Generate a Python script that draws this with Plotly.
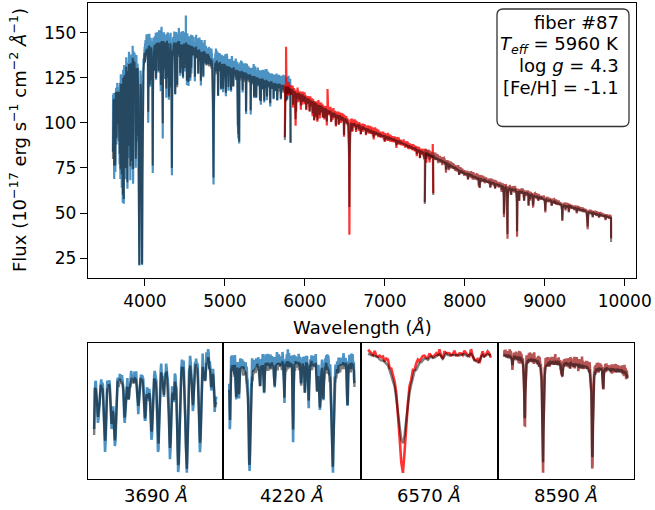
import numpy as np
import plotly.graph_objects as go

W, H = 655, 510
FONT = "DejaVu Sans"

# ---- spectrograph arms (observed frame, Å) ----
ARM_START = [3600.0, 5750.0, 7500.0]
ARM_END = [5822.0, 7606.0, 9830.0]
ARM_STEP = 0.8
ARM_COLOR = ["rgba(31,119,180,0.8)", "rgba(255,0,0,0.8)", "rgba(165,42,42,0.8)"]
MODEL_COLOR = "rgba(0,0,0,0.5)"
OBS_SCALE = [1.022, 1.004, 1.006]
NOISE_AMP = [0.035, 0.022, 0.026]
# first / last pixel of each arm (flux, 1e-17 erg/s/cm2/Å)
EDGE_OBS = [(84.0, 89.0), (92.0, 61.0), (56.0, 36.0)]
EDGE_MODEL = [(80.0, 89.0), (90.5, 60.0), (55.0, 34.0)]

# ---- model pseudo-continuum ----
CONT_WAVE = [3600, 3620, 3650, 3700, 3750, 3780, 3800, 3850, 3900, 3950, 4000,
             4050, 4100, 4200, 4300, 4400, 4500, 4600, 4700, 4800, 4900, 5000,
             5200, 5400, 5600, 5800, 6000, 6200, 6400, 6600, 6800, 7000, 7200,
             7440, 7600, 7800, 8000, 8250, 8530, 8750, 9000, 9250, 9530, 9830]
CONT_FLUX = [117, 119, 122, 126.5, 133, 138, 140, 141, 141, 143, 146,
             148, 149, 149.5, 149.5, 149, 148.5, 146.5, 144, 141, 138, 135.5,
             131.5, 128, 125, 122, 116.5, 111, 106, 101.5, 97.5, 94, 90.5,
             85.5, 82.5, 78, 73, 69, 65, 62, 58.5, 55, 51.5, 48]

# depth of the unresolved weak-line forest
FOREST_WAVE = [3600, 3950, 4050, 4600, 5200, 5800, 6500, 7600, 8500, 9830]
FOREST_DEPTH = [0.16, 0.15, 0.14, 0.14, 0.12, 0.10, 0.06, 0.045, 0.045, 0.04]
FOREST_A = [0.1, 0.6, 0.2, 0.0, 0.9, 0.3, 0.1, 0.5, 0.0, 0.2, 1.0, 0.4, 0.1, 0.0, 0.7, 0.2,
            0.3, 0.0, 0.8, 0.1, 0.4, 0.0, 0.6, 0.2, 0.0, 0.9, 0.3, 0.1, 0.5, 0.0, 0.2]
FOREST_B = [0.3, 0.0, 0.8, 0.1, 0.5, 0.0, 0.2, 0.9, 0.1, 0.0, 0.6, 0.3, 0.0, 0.7, 0.2, 0.4,
            0.0, 1.0, 0.1]
# pixel-to-pixel residual pattern of the observed spectrum
TEX_A = [0.3, -0.8, 0.5, 1.0, -0.2, -0.6, 0.9, 0.1, -1.0, 0.4, 0.7, -0.3, -0.9, 0.6, 0.2,
         -0.5, 0.8, -0.1, -0.7, 1.0, 0.0, -0.4, 0.5, -0.9, 0.3, 0.9, -0.6, 0.1, -0.2]
TEX_B = [-0.5, 0.9, -0.1, 0.4, -1.0, 0.6, 0.2, -0.7, 1.0, -0.3, 0.0, 0.7, -0.8, 0.3, -0.4,
         0.8, -0.6, 0.5, -0.2, 0.9, -0.9, 0.1, 0.6]

# ---- absorption lines: (centre, model depth, observed depth, model width, observed width, profile)
LINES_BLUE = [
    (3606.0, 0.17, 0.22, 1.5, 1.4, "G"),
    (3616.0, 0.33, 0.40, 1.6, 1.4, "G"), (3625.7, 0.22, 0.28, 1.5, 1.4, "G"),
    (3630.6, 0.34, 0.40, 1.6, 1.4, "G"), (3645.0, 0.19, 0.24, 1.5, 1.4, "G"),
    (3650.5, 0.10, 0.12, 1.4, 1.3, "G"), (3664.8, 0.16, 0.20, 1.5, 1.4, "G"),
    (3674.6, 0.22, 0.27, 1.6, 1.4, "G"), (3679.5, 0.12, 0.14, 1.4, 1.3, "G"),
    (3684.4, 0.32, 0.38, 1.6, 1.4, "G"), (3694.0, 0.38, 0.44, 1.7, 1.5, "G"),
    (3702.0, 0.10, 0.12, 1.4, 1.3, "G"), (3711.3, 0.41, 0.48, 1.7, 1.5, "G"),
    (3716.5, 0.15, 0.18, 1.4, 1.3, "G"), (3723.5, 0.52, 0.57, 1.8, 1.6, "G"),
    (3735.7, 0.54, 0.58, 1.8, 1.6, "G"), (3745.0, 0.20, 0.24, 1.5, 1.4, "G"),
    (3755.3, 0.42, 0.48, 1.7, 1.5, "G"), (3762.0, 0.10, 0.12, 1.4, 1.3, "G"),
    (3772.0, 0.15, 0.18, 1.4, 1.3, "G"), (3777.0, 0.22, 0.26, 1.5, 1.4, "G"),
    (3782.0, 0.48, 0.52, 2.0, 1.8, "G"), (3794.0, 0.33, 0.40, 2.5, 2.2, "G"),
    (3808.0, 0.20, 0.24, 1.6, 1.5, "G"), (3818.0, 0.42, 0.48, 1.8, 1.6, "G"),
    (3830.0, 0.38, 0.44, 2.0, 1.8, "G"), (3835.5, 0.40, 0.45, 2.5, 2.2, "G"),
    (3853.0, 0.45, 0.52, 2.0, 1.8, "G"), (3875.0, 0.20, 0.24, 1.6, 1.5, "G"),
    (3886.0, 0.40, 0.46, 2.5, 2.2, "G"), (3899.0, 0.22, 0.26, 1.6, 1.5, "G"),
    (3903.0, 0.28, 0.32, 1.6, 1.5, "G"), (3918.0, 0.20, 0.24, 1.6, 1.5, "G"),
    (3930.0, 0.84, 0.85, 5.0, 4.5, "L"), (3940.0, 0.30, 0.32, 1.6, 1.5, "G"),
    (3958.0, 0.30, 0.32, 1.6, 1.5, "G"), (3965.0, 0.84, 0.85, 5.0, 4.5, "L"),
    (4042.0, 0.24, 0.29, 1.5, 1.3, "G"), (4059.8, 0.15, 0.18, 1.5, 1.3, "G"),
    (4068.0, 0.13, 0.16, 1.5, 1.3, "G"), (4098.0, 0.47, 0.52, 3.2, 2.6, "L"),
    (4128.0, 0.08, 0.10, 1.4, 1.3, "G"), (4140.0, 0.12, 0.14, 1.4, 1.3, "G"),
    (4170.0, 0.10, 0.12, 1.4, 1.3, "G"), (4198.0, 0.13, 0.15, 1.4, 1.3, "G"),
    (4223.0, 0.30, 0.38, 1.4, 1.2, "G"), (4246.0, 0.10, 0.12, 1.4, 1.3, "G"),
    (4257.0, 0.13, 0.15, 1.4, 1.3, "G"), (4268.0, 0.17, 0.20, 1.4, 1.3, "G"),
    (4292.0, 0.12, 0.14, 1.5, 1.4, "G"), (4300.0, 0.20, 0.23, 2.5, 2.2, "G"),
    (4310.0, 0.15, 0.17, 1.5, 1.4, "G"), (4337.0, 0.48, 0.53, 3.2, 2.6, "L"),
    (4379.0, 0.20, 0.23, 1.4, 1.3, "G"), (4400.0, 0.12, 0.14, 1.4, 1.3, "G"),
    (4404.0, 0.15, 0.17, 1.4, 1.3, "G"), (4442.0, 0.10, 0.12, 1.4, 1.3, "G"),
    (4467.0, 0.10, 0.12, 1.4, 1.3, "G"), (4477.0, 0.10, 0.12, 1.4, 1.3, "G"),
    (4497.0, 0.08, 0.10, 1.4, 1.3, "G"), (4525.0, 0.10, 0.12, 1.4, 1.3, "G"),
    (4545.0, 0.13, 0.17, 1.4, 1.3, "G"), (4568.0, 0.10, 0.12, 1.4, 1.3, "G"),
    (4580.0, 0.08, 0.10, 1.4, 1.3, "G"), (4625.0, 0.08, 0.10, 1.4, 1.3, "G"),
    (4667.0, 0.08, 0.10, 1.4, 1.3, "G"), (4700.0, 0.08, 0.10, 1.4, 1.3, "G"),
    (4730.0, 0.06, 0.08, 1.4, 1.3, "G"), (4858.0, 0.48, 0.53, 3.8, 3.0, "L"),
    (4915.0, 0.12, 0.15, 1.4, 1.3, "G"), (4952.0, 0.09, 0.11, 1.4, 1.3, "G"),
    (4978.0, 0.08, 0.10, 1.4, 1.3, "G"), (5013.0, 0.11, 0.13, 1.4, 1.3, "G"),
    (5045.0, 0.07, 0.09, 1.4, 1.3, "G"), (5078.0, 0.08, 0.10, 1.4, 1.3, "G"),
    (5105.0, 0.07, 0.09, 1.4, 1.3, "G"), (5163.0, 0.22, 0.25, 1.4, 1.3, "G"),
    (5168.0, 0.26, 0.30, 1.4, 1.3, "G"), (5179.0, 0.29, 0.33, 1.4, 1.3, "G"),
    (5222.0, 0.07, 0.09, 1.4, 1.3, "G"), (5265.0, 0.14, 0.17, 1.4, 1.3, "G"),
    (5323.0, 0.13, 0.16, 1.4, 1.3, "G"), (5366.0, 0.08, 0.10, 1.4, 1.3, "G"),
    (5392.0, 0.07, 0.09, 1.4, 1.3, "G"), (5440.0, 0.09, 0.11, 1.4, 1.3, "G"),
    (5450.0, 0.08, 0.10, 1.4, 1.3, "G"), (5492.0, 0.07, 0.09, 1.4, 1.3, "G"),
    (5527.0, 0.06, 0.08, 1.4, 1.3, "G"), (5567.0, 0.07, 0.09, 1.4, 1.3, "G"),
    (5610.0, 0.06, 0.08, 1.4, 1.3, "G"), (5655.0, 0.06, 0.08, 1.4, 1.3, "G"),
    (5700.0, 0.05, 0.07, 1.4, 1.3, "G"), (5760.0, 0.05, 0.07, 1.4, 1.3, "G"),
    (5780.0, 0.05, 0.07, 1.4, 1.3, "G"),
]
LINES_RED = [
    (5853.0, 0.05, 0.06, 1.4, 1.3, "G"), (5884.0, 0.13, 0.15, 1.4, 1.3, "G"),
    (5890.0, 0.11, 0.13, 1.4, 1.3, "G"), (5950.0, 0.04, 0.05, 1.4, 1.3, "G"),
    (6018.0, 0.04, 0.05, 1.4, 1.3, "G"), (6060.0, 0.04, 0.05, 1.4, 1.3, "G"),
    (6097.0, 0.05, 0.06, 1.4, 1.3, "G"), (6117.0, 0.07, 0.08, 1.4, 1.3, "G"),
    (6136.0, 0.05, 0.06, 1.4, 1.3, "G"), (6157.0, 0.08, 0.09, 1.4, 1.3, "G"),
    (6185.0, 0.04, 0.05, 1.4, 1.3, "G"), (6225.0, 0.04, 0.05, 1.4, 1.3, "G"),
    (6245.0, 0.05, 0.06, 1.4, 1.3, "G"), (6275.0, 0.05, 0.06, 1.4, 1.3, "G"),
    (6330.0, 0.04, 0.05, 1.4, 1.3, "G"), (6388.0, 0.05, 0.06, 1.4, 1.3, "G"),
    (6425.0, 0.04, 0.05, 1.4, 1.3, "G"), (6490.0, 0.08, 0.09, 1.4, 1.3, "G"),
    (6557.0, 0.47, 0.62, 3.0, 2.2, "L"), (6593.0, 0.045, 0.05, 1.2, 1.1, "G"),
    (6640.0, 0.03, 0.04, 1.4, 1.3, "G"), (6700.0, 0.03, 0.04, 1.4, 1.3, "G"),
    (6765.0, 0.03, 0.04, 1.4, 1.3, "G"), (6860.0, 0.03, 0.04, 1.4, 1.3, "G"),
    (7000.0, 0.03, 0.04, 1.4, 1.3, "G"), (7145.0, 0.03, 0.04, 1.4, 1.3, "G"),
    (7400.0, 0.03, 0.04, 1.4, 1.3, "G"), (7440.0, 0.04, 0.05, 1.4, 1.3, "G"),
    (7490.0, 0.03, 0.04, 1.4, 1.3, "G"), (7520.0, 0.03, 0.04, 1.4, 1.3, "G"),
    (7560.0, 0.03, 0.04, 1.4, 1.3, "G"),
]
LINES_IR = [
    (7765.0, 0.05, 0.06, 1.4, 1.3, "G"), (7770.0, 0.04, 0.05, 1.4, 1.3, "G"),
    (7800.0, 0.03, 0.04, 1.4, 1.3, "G"), (7930.0, 0.03, 0.04, 1.4, 1.3, "G"),
    (8040.0, 0.03, 0.04, 1.4, 1.3, "G"), (8176.0, 0.06, 0.07, 1.4, 1.3, "G"),
    (8187.0, 0.07, 0.08, 1.4, 1.3, "G"), (8320.0, 0.04, 0.05, 1.4, 1.3, "G"),
    (8380.0, 0.03, 0.04, 1.4, 1.3, "G"), (8460.0, 0.03, 0.04, 1.4, 1.3, "G"),
    (8490.0, 0.25, 0.31, 1.4, 1.1, "L"), (8534.0, 0.42, 0.49, 1.8, 1.3, "L"),
    (8580.0, 0.05, 0.06, 2.0, 1.8, "G"), (8654.0, 0.38, 0.45, 1.7, 1.2, "L"),
    (8680.0, 0.08, 0.09, 1.2, 1.1, "G"), (8742.0, 0.07, 0.08, 2.5, 2.2, "L"),
    (8798.0, 0.09, 0.10, 1.5, 1.4, "G"), (8816.0, 0.04, 0.05, 1.4, 1.3, "G"),
    (8855.0, 0.09, 0.11, 2.5, 2.2, "L"), (8920.0, 0.03, 0.04, 1.4, 1.3, "G"),
    (9007.0, 0.11, 0.13, 2.8, 2.4, "L"), (9088.0, 0.04, 0.05, 1.4, 1.3, "G"),
    (9220.0, 0.15, 0.17, 3.0, 2.6, "L"), (9260.0, 0.04, 0.05, 1.4, 1.3, "G"),
    (9300.0, 0.05, 0.06, 1.4, 1.3, "G"), (9400.0, 0.04, 0.05, 1.4, 1.3, "G"),
    (9537.0, 0.16, 0.18, 3.2, 2.8, "L"), (9600.0, 0.04, 0.05, 1.4, 1.3, "G"),
    (9680.0, 0.03, 0.04, 1.4, 1.3, "G"), (9760.0, 0.03, 0.04, 1.4, 1.3, "G"),
]
ARM_LINES = [LINES_BLUE, LINES_RED, LINES_IR]
# cosmic-ray / sky residual spikes in the observed spectrum: (arm, wavelength, excess flux)
SPIKE_ARM = [0, 0, 1, 1, 1]
SPIKE_WAVE = [4106.0, 4512.0, 5765.0, 6284.0, 7600.0]
SPIKE_FLUX = [8.0, 11.0, 20.0, 12.0, 8.0]

# zoom windows
ZOOM_CENTER = [3690, 4220, 6570, 8590]
ZOOM_HALF = [90, 180, 30, 150]
ZOOM_ARM = [0, 0, 1, 2]

# stellar parameters
FIBER = 87
TEFF = 5960
LOGG = 4.3
FEH = -1.1


def profile(wave, centre, width, kind):
    u = (wave - centre) / width
    if kind == "L":
        return 1.0 / (1.0 + u * u)
    return np.exp(-0.5 * u * u)


tex_a, tex_b = np.array(TEX_A), np.array(TEX_B)
for_a, for_b = np.array(FOREST_A), np.array(FOREST_B)

arms = []
for a in range(3):
    wave = np.arange(ARM_START[a], ARM_END[a] + ARM_STEP / 2, ARM_STEP)
    k = np.arange(wave.size)
    cont = np.interp(wave, CONT_WAVE, CONT_FLUX)
    fdep = np.interp(wave, FOREST_WAVE, FOREST_DEPTH)
    forest = 0.5 * (for_a[k % for_a.size] + for_b[k % for_b.size])
    forest = np.convolve(forest, [0.25, 0.5, 0.25], mode="same")
    resid = 0.6 * tex_a[k % tex_a.size] + 0.4 * tex_b[k % tex_b.size]

    model = cont * (1.0 - fdep * forest)
    obs = cont * OBS_SCALE[a] * (1.0 - fdep * forest) * (1.0 + NOISE_AMP[a] * resid)
    for (c, dm, do, wm, wo, kind) in ARM_LINES[a]:
        model *= 1.0 - dm * profile(wave, c, wm, kind)
        obs *= 1.0 - do * profile(wave, c, wo, kind)
    for sa, sw, sf in zip(SPIKE_ARM, SPIKE_WAVE, SPIKE_FLUX):
        if sa == a:
            obs[np.argmin(np.abs(wave - sw))] += sf
    obs[0], obs[-1] = EDGE_OBS[a]
    model[0], model[-1] = EDGE_MODEL[a]
    arms.append((wave, obs, model))

fig = go.Figure()

# full spectrum
for a, (wave, obs, model) in enumerate(arms):
    fig.add_trace(go.Scatter(x=wave, y=obs, mode="lines", xaxis="x", yaxis="y",
                             line=dict(color=ARM_COLOR[a], width=2.2), hoverinfo="skip"))
    fig.add_trace(go.Scatter(x=wave, y=model, mode="lines", xaxis="x", yaxis="y",
                             line=dict(color=MODEL_COLOR, width=2.0), hoverinfo="skip"))

# zoomed windows
zoom_ranges = []
for p in range(4):
    wave, obs, model = arms[ZOOM_ARM[p]]
    lo, hi = ZOOM_CENTER[p] - ZOOM_HALF[p], ZOOM_CENTER[p] + ZOOM_HALF[p]
    m = (wave >= lo) & (wave <= hi)
    ax = str(p + 2)
    fig.add_trace(go.Scatter(x=wave[m], y=obs[m], mode="lines", xaxis="x" + ax, yaxis="y" + ax,
                             line=dict(color=ARM_COLOR[ZOOM_ARM[p]], width=2.6), hoverinfo="skip"))
    fig.add_trace(go.Scatter(x=wave[m], y=model[m], mode="lines", xaxis="x" + ax, yaxis="y" + ax,
                             line=dict(color=MODEL_COLOR, width=2.4), hoverinfo="skip"))
    ymin = min(obs[m].min(), model[m].min())
    ymax = max(obs[m].max(), model[m].max())
    pad_y = 0.05 * (ymax - ymin)
    pad_x = 0.05 * (hi - lo)
    zoom_ranges.append(([lo - pad_x, hi + pad_x], [ymin - pad_y, ymax + pad_y]))

all_w = np.concatenate([w for w, _, _ in arms])
all_f = np.concatenate([np.concatenate([o, m]) for _, o, m in arms])
xpad = 0.05 * (all_w.max() - all_w.min())
ypad = 0.05 * (all_f.max() - all_f.min())


def px(x):
    return x / W


def py(y):
    return 1 - y / H


axis_common = dict(showgrid=False, zeroline=False, showline=True, mirror=True,
                   linecolor="black", linewidth=1.3, automargin=False)

layout = dict(
    width=W, height=H, margin=dict(l=0, r=0, t=0, b=0, autoexpand=False),
    paper_bgcolor="white", plot_bgcolor="white", showlegend=False,
    font=dict(family=FONT, size=17, color="black"),
    xaxis=dict(domain=[px(88), px(636)], anchor="y",
               range=[all_w.min() - xpad, all_w.max() + xpad],
               ticks="outside", ticklen=7, tickwidth=1.3, tickcolor="black",
               dtick=1000, tick0=0, tickformat="d", tickfont=dict(size=17), **axis_common),
    yaxis=dict(domain=[py(278), py(3)], anchor="x",
               range=[all_f.min() - ypad, all_f.max() + ypad],
               ticks="outside", ticklen=7, tickwidth=1.3, tickcolor="black",
               dtick=25, tick0=0, tickformat="d", tickfont=dict(size=17), **axis_common),
)
panel_x = [(88, 223), (223, 361), (361, 498), (498, 634)]
for p in range(4):
    ax = str(p + 2)
    xr, yr = zoom_ranges[p]
    layout["xaxis" + ax] = dict(domain=[px(panel_x[p][0]), px(panel_x[p][1])], anchor="y" + ax,
                                range=xr, showticklabels=False, ticks="", **axis_common)
    layout["yaxis" + ax] = dict(domain=[py(479), py(343)], anchor="x" + ax,
                                range=yr, showticklabels=False, ticks="", **axis_common)
fig.update_layout(**layout)

ann = []
ann.append(dict(text="Wavelength (<i>Å</i>)", x=px(362), y=py(327), xref="paper", yref="paper",
                showarrow=False, font=dict(size=18), xanchor="center", yanchor="middle"))
ann.append(dict(text="Flux (10<sup>−17</sup> erg s<sup>−1</sup> cm<sup>−2</sup> <i>Å</i><sup>−1</sup>)",
                x=px(18), y=py(140), xref="paper", yref="paper", textangle=-90,
                showarrow=False, font=dict(size=18), xanchor="center", yanchor="middle"))
for p in range(4):
    ann.append(dict(text=f"{ZOOM_CENTER[p]} <i>Å</i>", x=px(sum(panel_x[p]) / 2), y=py(495),
                    xref="paper", yref="paper", showarrow=False, font=dict(size=18),
                    xanchor="center", yanchor="middle"))

box_lines = [f"fiber #{FIBER}",
             f"<i>T</i><sub><i>eff</i></sub> = {TEFF} K",
             f"log <i>g</i> = {LOGG}",
             f"[Fe/H] = {FEH}"]
box_y = [23, 45, 66, 87]
for t, yy in zip(box_lines, box_y):
    ann.append(dict(text=t, x=px(621), y=py(yy), xref="paper", yref="paper", showarrow=False,
                    font=dict(size=18), xanchor="right", yanchor="middle", align="right"))
fig.update_layout(annotations=ann)

# rounded parameter box
x0, x1, y0, y1 = px(497), px(629), py(9), py(126.5)
rx, ry = 6 / W, 6 / H
path = (f"M {x0+rx},{y0} L {x1-rx},{y0} Q {x1},{y0} {x1},{y0-ry} L {x1},{y1+ry} "
        f"Q {x1},{y1} {x1-rx},{y1} L {x0+rx},{y1} Q {x0},{y1} {x0},{y1+ry} "
        f"L {x0},{y0-ry} Q {x0},{y0} {x0+rx},{y0} Z")
fig.add_shape(type="path", path=path, xref="paper", yref="paper",
              line=dict(color="#333333", width=1.3), fillcolor="white", layer="below")

fig.write_html("out.html")
